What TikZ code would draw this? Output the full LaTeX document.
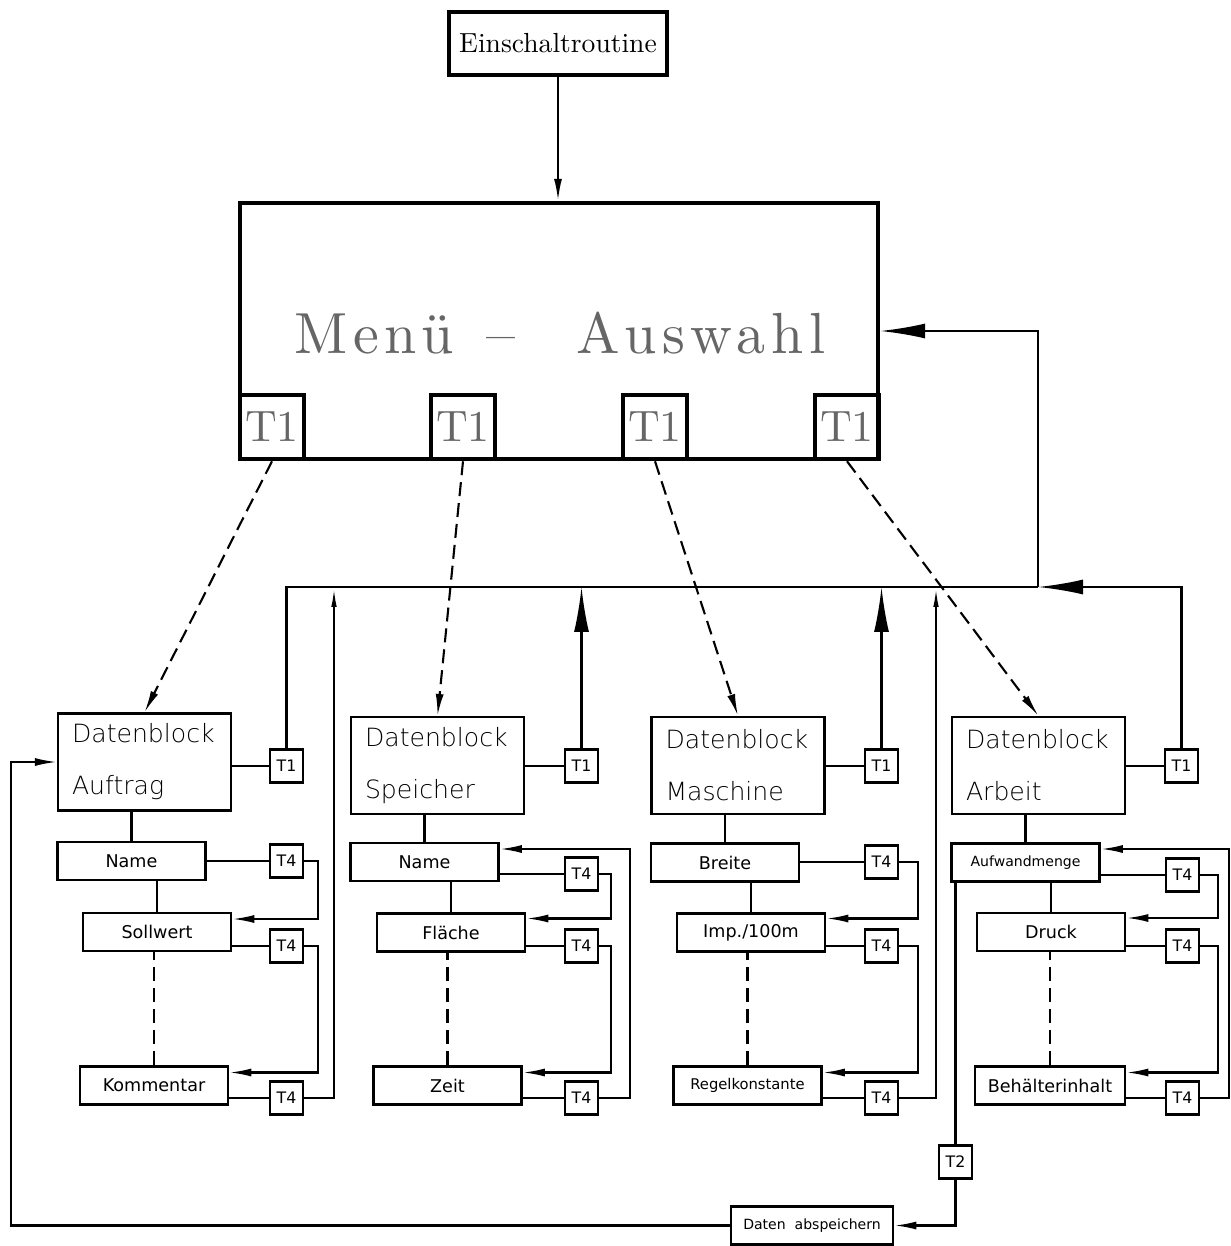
\documentclass[tikz,border=0pt]{standalone}
\usepackage{fontspec}
\usetikzlibrary{arrows.meta,calc}
\newfontfamily\cadfont{DejaVu Sans}
\newfontfamily\cadlight{DejaVu Sans ExtraLight}
\newfontfamily\romten{lmroman10-regular.otf}

\begin{document}
\begin{tikzpicture}[
    x=0.02cm, y=-0.02cm,
    >={Latex[length=0.44cm,width=0.16cm]}, % arrow head style
    line width=1.2pt,
    bigarrow/.style={-{Latex[length=0.9cm,width=0.3cm]}},
    thinarrow/.style={-{Latex[length=0.4cm,width=0.11cm]}},
    dashline/.style={dash pattern=on 0.28cm off 0.14cm},
    block/.style={draw, line width=1.2pt, inner sep=0pt,
        minimum width=3.46cm, minimum height=1.94cm,
        text width=2.9cm, align=left,
        font=\cadlight\fontsize{14.3}{29.6}\selectfont},
    field/.style={draw, line width=1.5pt, inner sep=0pt,
        minimum width=2.96cm, minimum height=0.76cm,
        font=\cadfont\fontsize{10}{12}\selectfont},
    tkey/.style={draw, line width=1.2pt, inner sep=0pt,
        minimum size=0.66cm, font=\cadfont\fontsize{9}{10}\selectfont},
    menukey/.style={draw, line width=2.6pt, inner sep=0pt,
        minimum size=1.28cm, text=black!60,
        font=\romten\fontsize{25}{25}\selectfont}
]
\useasboundingbox (0,0) rectangle (1230,1246);

% Einschaltroutine und Menue
\node[draw, line width=2.3pt, inner sep=0pt, minimum width=4.36cm, minimum height=1.26cm,
    font=\romten\fontsize{15.7}{18}\selectfont] (einsch) at (558,43.5) {Einschaltroutine};
\node[draw, line width=2.5pt, minimum width=12.76cm, minimum height=5.12cm] (menu) at (559,331) {};
\node[text=black!60, font={\romten\fontsize{33}{33}\selectfont\addfontfeature{LetterSpace=10}}]
    (menutitle) at (560,333) {Menü\hspace{0.66cm}–\hspace{1.22cm}Auswahl};
\node[menukey] (m1) at (272,427) {T1};
\node[menukey] (m2) at (463,427) {T1};
\node[menukey] (m3) at (655,427) {T1};
\node[menukey] (m4) at (847,427) {T1};

\draw[->] (einsch.south) -- (einsch.south |- menu.north);

% Datenbloecke
\node[block] (da) at (144.5,762) {Datenblock\\Auftrag};
\node[block] (db) at (437.5,765.5) {Datenblock\\Speicher};
\node[block] (dc) at (738,765.5) {Datenblock\\Maschine};
\node[block] (dd) at (1038.5,765.5) {Datenblock\\Arbeit};

\node[tkey] (t1a) at (286.5,766) {T1};
\node[tkey] (t1b) at (581.5,766) {T1};
\node[tkey] (t1c) at (881.5,766) {T1};
\node[tkey] (t1d) at (1181.5,766) {T1};

\draw[->, dashline] (m1.south) -- (da.north);
\draw[->, dashline] (m2.south) -- (db.north);
\draw[->, dashline] (m3.south) -- (dc.north);
\draw[->, dashline] (m4.south) -- (dd.north);

\draw (t1a.west) -- (t1a.west -| da.east);
\draw (t1b.west) -- (t1b.west -| db.east);
\draw (t1c.west) -- (t1c.west -| dc.east);
\draw (t1d.west) -- (t1d.west -| dd.east);

% Rueckfuehrung zum Menue
\coordinate (bus) at (1038,587);
\coordinate (upA) at (334,587);
\coordinate (upC) at (936,587);
\draw (t1a.north) |- (bus);
\draw[bigarrow] (t1d.north) |- (bus);
\draw[bigarrow] (bus) |- (menu.east);
\draw[bigarrow] (t1b.north) -- (t1b.north |- bus);
\draw[bigarrow] (t1c.north) -- (t1c.north |- bus);

% Auftrag
\node[field] (na) at (131.5,861) {Name};
\node[field] (sa) at (157,932) {Sollwert};
\node[field] (ka) at (154,1085.5) {Kommentar};
\node[tkey] (t4a1) at (286.5,861) {T4};
\node[tkey] (t4a2) at (286.5,946) {T4};
\node[tkey] (t4a3) at (286.5,1098) {T4};
\draw (na.north) -- (na.north |- da.south);
\draw (sa.north) -- (sa.north |- na.south);
\draw[dashline] (ka.north) -- (ka.north |- sa.south);
\draw (t4a1.west) -- (t4a1.west -| na.east);
\draw (t4a2.west) -- (t4a2.west -| sa.east);
\draw (t4a3.west) -- (t4a3.west -| ka.east);
\draw[->] (t4a1.east) -- ++(14,0) |- ($(sa.east)+(0,-13)$);
\draw[->] (t4a2.east) -- ++(14,0) |- ($(ka.east)+(0,-13)$);
\draw[thinarrow] (t4a3.east) -| (upA);

% Speicher
\node[field] (nb) at (424.5,862) {Name};
\node[field] (fb) at (451,932.5) {Fläche};
\node[field] (zb) at (447.5,1085.5) {Zeit};
\node[tkey] (t4b1) at (581.5,874) {T4};
\node[tkey] (t4b2) at (581.5,946) {T4};
\node[tkey] (t4b3) at (581.5,1098) {T4};
\draw (nb.north) -- (nb.north |- db.south);
\draw (fb.north) -- (fb.north |- nb.south);
\draw[dashline] (zb.north) -- (zb.north |- fb.south);
\draw (t4b1.west) -- (t4b1.west -| nb.east);
\draw (t4b2.west) -- (t4b2.west -| fb.east);
\draw (t4b3.west) -- (t4b3.west -| zb.east);
\draw[->] (t4b1.east) -- ++(12,0) |- ($(fb.east)+(0,-14)$);
\draw[->] (t4b2.east) -- ++(12,0) |- ($(zb.east)+(0,-13)$);
\draw[->] (t4b3.east) -- ++(31,0) |- ($(nb.east)+(0,-13)$);

% Maschine
\node[field] (br) at (725,862.5) {Breite};
\node[field] (im) at (751,932.5) {Imp./100m};
\node[field, font=\cadfont\fontsize{8.4}{10}\selectfont] (rk) at (747.5,1085.5) {Regelkonstante};
\node[tkey] (t4c1) at (881.5,862) {T4};
\node[tkey] (t4c2) at (881.5,946) {T4};
\node[tkey] (t4c3) at (881.5,1098) {T4};
\draw (br.north) -- (br.north |- dc.south);
\draw (im.north) -- (im.north |- br.south);
\draw[dashline] (rk.north) -- (rk.north |- im.south);
\draw (t4c1.west) -- (t4c1.west -| br.east);
\draw (t4c2.west) -- (t4c2.west -| im.east);
\draw (t4c3.west) -- (t4c3.west -| rk.east);
\draw[->] (t4c1.east) -- ++(19,0) |- ($(im.east)+(0,-14)$);
\draw[->] (t4c2.east) -- ++(19,0) |- ($(rk.east)+(0,-13)$);
\draw[thinarrow] (t4c3.east) -| (upC);

% Arbeit
\node[field, font=\cadfont\fontsize{8}{10}\selectfont] (aw) at (1025.5,862.5) {Aufwandmenge};
\node[field] (dr) at (1051,932) {Druck};
\node[field, minimum width=3cm] (bh) at (1050,1085.5) {Behälterinhalt};
\node[tkey] (t4d1) at (1182.5,875) {T4};
\node[tkey] (t4d2) at (1182.5,946) {T4};
\node[tkey] (t4d3) at (1182.5,1098) {T4};
\draw (aw.north) -- (aw.north |- dd.south);
\draw (dr.north) -- (dr.north |- aw.south);
\draw[dashline] (bh.north) -- (bh.north |- dr.south);
\draw (t4d1.west) -- (t4d1.west -| aw.east);
\draw (t4d2.west) -- (t4d2.west -| dr.east);
\draw (t4d3.west) -- (t4d3.west -| bh.east);
\draw[->] (t4d1.east) -- ++(18,0) |- ($(dr.east)+(0,-14)$);
\draw[->] (t4d2.east) -- ++(18,0) |- ($(bh.east)+(0,-13)$);
\draw[->] (t4d3.east) -- ++(29,0) |- ($(aw.east)+(0,-13.5)$);

% Daten abspeichern
\node[tkey] (t2) at (955.5,1162) {T2};
\node[field, minimum width=3.24cm, font=\cadfont\fontsize{8}{10}\selectfont]
    (save) at (812,1225.5) {Daten\ \ abspeichern};
\draw (t2.north) -- (t2.north |- aw.south);
\draw[->] (t2.south) |- (save.east);
\draw[->] (save.west) -- ++(-719,0) |- (da.west);
\end{tikzpicture}
\end{document}
